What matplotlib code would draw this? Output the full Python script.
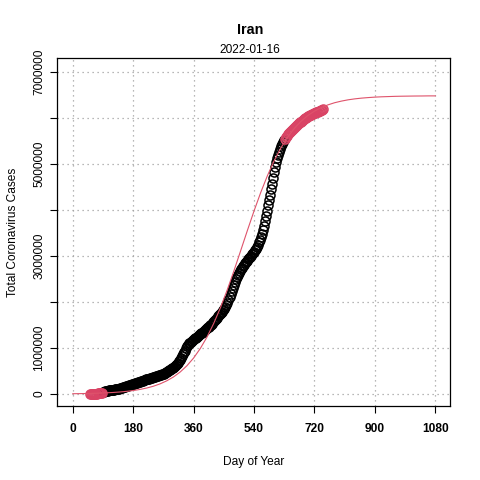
import numpy as np
import matplotlib
matplotlib.use("Agg")
import matplotlib.pyplot as plt

plt.rcParams['font.family'] = ['Liberation Sans', 'DejaVu Sans']

# cumulative cases (thousands), every 3 days, day of year counted from 2020-01-01
days = list(range(50, 747, 3))
cases_k = [0.002, 0.04, 0.14, 0.39, 1.5, 3.5, 6.6, 9.0, 12.7, 16.2,
           19.6, 24.8, 29.4, 38.3, 47.6, 55.7, 62.6, 68.2, 73.3, 77.9,
           82.2, 85.9, 89.3, 92.6, 95.6, 98.6, 101.7, 106.2, 110.8, 116.6,
           124.6, 131.6, 137.7, 143.8, 151.5, 160.7, 167.2, 175.9, 182.5, 189.9,
           197.6, 204.9, 212.5, 220.2, 227.7, 235.4, 243.1, 250.5, 257.3, 264.6,
           271.6, 279.0, 286.5, 293.6, 301.5, 309.4, 316.0, 322.6, 329.0, 335.1,
           341.1, 349.4, 356.8, 363.4, 369.9, 376.9, 383.6, 390.0, 396.6, 403.2,
           410.3, 417.2, 425.1, 433.4, 443.0, 457.2, 474.0, 488.2, 504.3, 513.2,
           526.5, 540.9, 555.6, 569.7, 585.6, 604.0, 628.8, 654.9, 682.3, 716.0,
           747.0, 788.0, 828.4, 867.6, 906.3, 945.0, 1003, 1040, 1072, 1098,
           1116, 1140, 1158, 1175, 1194, 1212, 1228, 1244, 1262, 1280,
           1297, 1318, 1336, 1354, 1373, 1392, 1411, 1430, 1447, 1467,
           1490, 1509, 1530, 1556, 1583, 1613, 1637, 1662, 1690, 1715,
           1739, 1763, 1788, 1815, 1846, 1885, 1930, 1983, 2048, 2110,
           2167, 2237, 2305, 2370, 2435, 2500, 2550, 2595, 2637, 2675,
           2712, 2746, 2779, 2812, 2841, 2868, 2898, 2926, 2951, 2977,
           3003, 3034, 3065, 3094, 3126, 3160, 3200, 3245, 3293, 3348,
           3411, 3485, 3566, 3650, 3750, 3860, 3980, 4100, 4212, 4330,
           4450, 4570, 4692, 4818, 4935, 5030, 5117, 5195, 5268, 5328,
           5380, 5430, 5475, 5510, 5545, 5580, 5611, 5640, 5671, 5697,
           5720, 5745, 5767, 5785, 5802, 5820, 5838, 5857, 5883, 5903,
           5920, 5938, 5956, 5974, 5988, 6000, 6018, 6034, 6046, 6058,
           6070, 6082, 6094, 6106, 6114, 6120, 6126, 6133, 6142, 6150,
           6160, 6170, 6185]

# fitted curve (thousands), every 20 days
fit_days = list(range(0, 1081, 20))
fit_k = [6.6, 8.7, 11.4, 15.0, 19.7, 25.8, 33.8, 44.3, 58.1, 76.0,
         99.4, 129.9, 169.2, 220.4, 286.7, 370.7, 478.2, 613.6, 781.7, 989.3,
         1239, 1535, 1876, 2258, 2672, 3108, 3547, 3975, 4378, 4744,
         5068, 5346, 5578, 5769, 5924, 6048, 6145, 6222, 6281, 6328,
         6363, 6391, 6412, 6428, 6440, 6450, 6457, 6462, 6467, 6470,
         6472, 6474, 6475, 6477, 6477]

red_early_end = 86    # first days drawn in red
red_late_start = 630  # last days drawn in red

title = "Iran"
subtitle = "2022-01-16"
xticks = [0, 180, 360, 540, 720, 900, 1080]
yticks = [0, 1e6, 2e6, 3e6, 4e6, 5e6, 6e6, 7e6]
ylabels = ["0", "1000000", "", "3000000", "", "5000000", "", "7000000"]

red = "#D94465"

d = np.array(days)
c = np.array(cases_k) * 1000
is_red = (d <= red_early_end) | (d >= red_late_start)

fig = plt.figure(figsize=(4.8, 4.8), dpi=100)
ax = fig.add_axes([57/480, 74/480, 393/480, 348/480])

for x in xticks:
    ax.axvline(x, color="#a0a0a0", lw=0.9, ls=(0, (1, 3)), zorder=0)
for y in yticks:
    ax.axhline(y, color="#a0a0a0", lw=0.9, ls=(0, (1, 3)), zorder=0)

ax.plot(d[~is_red], c[~is_red], "o", mfc="none", mec="black", ms=6.5, mew=1.1)
ax.plot(d[is_red], c[is_red], "o", mfc="none", mec=red, ms=6.5, mew=1.1)
ax.plot(fit_days, np.array(fit_k) * 1000, color="#DF536B", lw=0.8)

ax.set_xlim(-47, 1124)
ax.set_ylim(-0.26e6, 7.30e6)
ax.set_xticks(xticks)
ax.set_xticklabels([str(x) for x in xticks], fontweight="bold", fontsize=8.6)
ax.set_yticks(yticks)
ax.set_yticklabels(ylabels, rotation=90, va="center", fontsize=8.6)
ax.tick_params(direction="out", length=5, width=0.8)
ax.tick_params(axis="x", pad=7)
ax.tick_params(axis="y", pad=3.5)
for s in ax.spines.values():
    s.set_linewidth(0.9)

ax.set_xlabel("Day of Year", fontsize=8.6, labelpad=15)
ax.set_ylabel("Total Coronavirus Cases", fontsize=8.6, labelpad=10)
fig.text(250/480, 1 - 30/480, title, ha="center", va="center", fontweight="bold", fontsize=10.4)
fig.text(250/480, 1 - 50/480, subtitle, ha="center", va="center", fontsize=8.6)

fig.savefig("out.png", dpi=100)
